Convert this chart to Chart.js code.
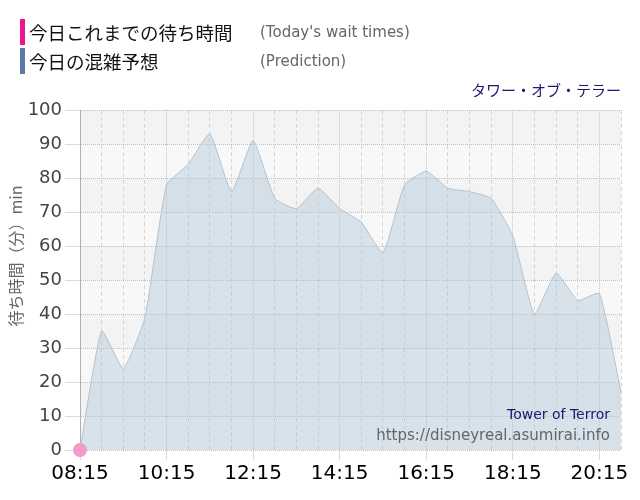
<!DOCTYPE html>
<html>
<head>
<meta charset="utf-8">
<script src="https://cdn.jsdelivr.net/npm/chart.js@4.4.1/dist/chart.umd.min.js"></script>
<style>
body { margin: 0; background: #fff; }
#wrap { position: relative; width: 640px; height: 500px; }
#chart { position: absolute; left: 0; top: 0; }
.leg { position: absolute; left: 20px; height: 26px; width: 5px; }
.jp { position: absolute; left: 29px; font: 18.5px "Noto Sans CJK JP"; color: #111; line-height: 26px; }
.en { position: absolute; left: 260px; font: 15px "DejaVu Sans"; color: #666; line-height: 26px; }
#ride { position: absolute; right: 19px; top: 79px; font: 15px "Noto Sans CJK JP"; color: #191970; }
#wm1 { position: absolute; right: 30px; top: 406px; font: 14px "DejaVu Sans"; color: #191970; }
#wm2 { position: absolute; right: 30px; top: 426px; font: 15px "DejaVu Sans"; color: #666; }
</style>
</head>
<body>
<div id="wrap">
  <canvas id="chart" width="640" height="500"></canvas>
  <div class="leg" style="top:19px;background:#f0158c"></div>
  <div class="jp" style="top:19px">今日これまでの待ち時間</div>
  <div class="en" style="top:19px">(Today's wait times)</div>
  <div class="leg" style="top:48px;background:#5b7aa6"></div>
  <div class="jp" style="top:48px">今日の混雑予想</div>
  <div class="en" style="top:48px">(Prediction)</div>
  <div id="ride">タワー・オブ・テラー</div>
  <div id="wm1">Tower of Terror</div>
  <div id="wm2">https://disneyreal.asumirai.info</div>
</div>
<script>
const times = ['08:15','08:45','09:15','09:45','10:15','10:45','11:15','11:45','12:15','12:45',
  '13:15','13:45','14:15','14:45','15:15','15:45','16:15','16:45','17:15','17:45',
  '18:15','18:45','19:15','19:45','20:15','20:45'];
const prediction = [0, 35, 24, 39, 78, 84, 93, 76, 91, 74,
  71, 77, 71, 67, 58, 78, 82, 77, 76, 74,
  63, 40, 52, 44, 46, 17];
const actual = [0];
const yTicks = [0, 10, 20, 30, 40, 50, 60, 70, 80, 90, 100];

// alternating grey bands behind the grid
const bands = {
  id: 'bands',
  beforeDraw(chart) {
    const {ctx, chartArea, scales: {y}} = chart;
    ctx.save();
    for (let i = 0; i < yTicks.length - 1; i++) {
      const top = y.getPixelForValue(yTicks[i + 1]);
      const bot = y.getPixelForValue(yTicks[i]);
      ctx.fillStyle = i % 2 === 1 ? '#f3f3f3' : '#f8f8f8';
      ctx.fillRect(chartArea.left, top, chartArea.right - chartArea.left, bot - top);
    }
    ctx.restore();
  }
};

new Chart(document.getElementById('chart'), {
  type: 'line',
  data: {
    labels: times,
    datasets: [{
      data: actual,
      borderColor: '#f49ac8',
      backgroundColor: '#f49ac8',
      pointRadius: 7,
      pointHoverRadius: 7,
      borderWidth: 0,
      clip: false,
      fill: false
    }, {
      data: prediction,
      borderColor: '#b4c2cf',
      borderWidth: 1,
      backgroundColor: 'rgba(170,195,215,0.42)',
      pointRadius: 0,
      tension: 0.15,
      fill: 'origin'
    }]
  },
  options: {
    responsive: false,
    animation: false,
    layout: { padding: { top: 110, right: 19, left: 0, bottom: 0 } },
    plugins: { legend: { display: false }, tooltip: { enabled: false } },
    scales: {
      x: {
        afterFit: (s) => { s.height = 50; },
        border: {
          display: false,
          dash: (c) => (c.index % 4 === 0 ? [1, 1] : [4, 3])
        },
        grid: {
          color: (c) => (c.index === 0 ? '#b0b0b0' : (c.index % 4 === 0 ? '#c4c4c4' : '#d6d6d6')),
          tickColor: (c) => (c.index % 4 === 0 ? '#d8d8d8' : 'rgba(0,0,0,0)'),
          tickLength: 10
        },
        ticks: {
          autoSkip: false,
          maxRotation: 0,
          padding: 2,
          color: '#000',
          font: { family: 'DejaVu Sans', size: 20 },
          callback: (v, i) => (i % 4 === 0 ? times[i] : '')
        }
      },
      y: {
        min: 0,
        max: 100,
        afterFit: (s) => { s.width = 80; },
        border: { display: true, color: '#b0b0b0', dash: [1, 1] },
        grid: {
          color: '#c0c0c0',
          tickColor: '#dcdcdc',
          tickLength: 15
        },
        ticks: {
          stepSize: 10,
          padding: 3,
          color: '#444',
          font: { family: 'DejaVu Sans', size: 18 }
        },
        title: {
          display: true,
          text: '\u3000\u3000\u3000待ち時間（分）min',
          color: '#666',
          padding: { top: 6, bottom: 0 },
          font: { family: 'Noto Sans CJK JP', size: 16 }
        }
      }
    }
  },
  plugins: [bands]
});
</script>
</body>
</html>
